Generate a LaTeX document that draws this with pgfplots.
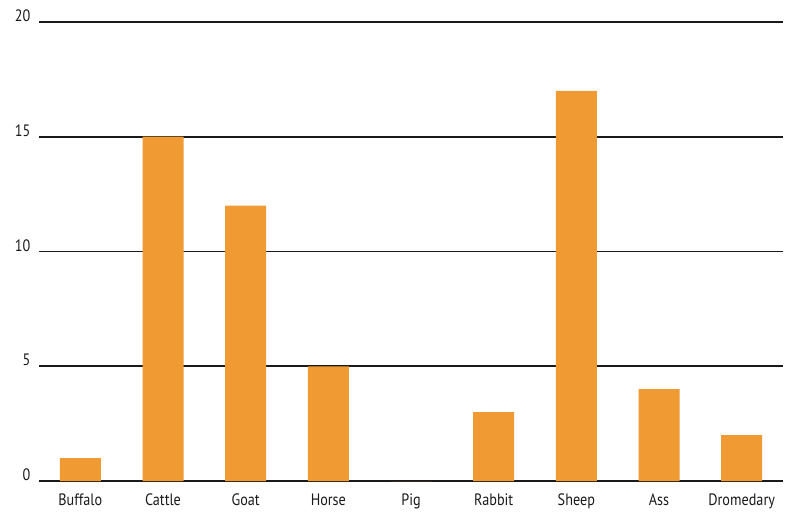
\documentclass[border=0pt]{standalone}
\usepackage{pgfplots}
\pgfplotsset{compat=1.18}
\usepackage{fontspec}
\setmainfont[FakeStretch=0.86]{PT Sans}
\definecolor{barorange}{HTML}{F09A33}
\definecolor{gridblack}{HTML}{1A1A1A}
\begin{document}
\begin{tikzpicture}
\path[use as bounding box] (-39pt,-36pt) rectangle (748pt,481pt);
\begin{axis}[
  at={(0,0)}, anchor=south west,
  scale only axis,
  width=744pt, height=459pt,
  xmin=-0.5, xmax=8.5,
  ymin=0, ymax=20,
  ytick={0,5,10,15,20},
  xtick={0,...,8},
  xticklabels={Buffalo,Cattle,Goat,Horse,Pig,Rabbit,Sheep,Ass,Dromedary},
  axis line style={draw=none},
  major tick length=0pt,
  ymajorgrids,
  grid style={gridblack, line width=1.8pt},
  tick label style={font=\fontsize{16.5}{18}\selectfont, text=gridblack},
  /pgf/number format/assume math mode=true,
  yticklabel style={anchor=east, xshift=-5pt, yshift=6pt},
  xticklabel style={anchor=north, yshift=-9pt},
  ybar, bar width=41pt,
  clip=false,
]
\addplot[fill=barorange, draw=none] coordinates {
  (0,1) (1,15) (2,12) (3,5) (4,0) (5,3) (6,17) (7,4) (8,2)
};
\end{axis}
\end{tikzpicture}
\end{document}
